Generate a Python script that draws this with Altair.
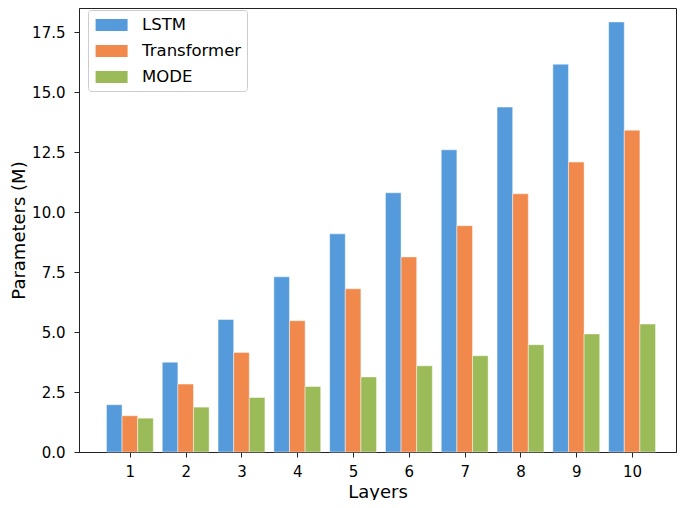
import altair as alt
import pandas as pd

layers = [1, 2, 3, 4, 5, 6, 7, 8, 9, 10]
models = ["LSTM", "Transformer", "MODE"]
lstm = [1.97, 3.74, 5.52, 7.30, 9.09, 10.80, 12.59, 14.37, 16.16, 17.92]
transformer = [1.51, 2.83, 4.15, 5.47, 6.80, 8.13, 9.43, 10.76, 12.08, 13.41]
mode = [1.41, 1.87, 2.27, 2.73, 3.13, 3.59, 4.01, 4.47, 4.92, 5.33]
colors = ["#559bdc", "#f0894b", "#9bbb59"]
y_ticks = [0, 2.5, 5, 7.5, 10, 12.5, 15, 17.5]

bar_w = 0.28
offsets = {"LSTM": -bar_w, "Transformer": 0.0, "MODE": bar_w}
series = {"LSTM": lstm, "Transformer": transformer, "MODE": mode}

rows = []
for m in models:
    for L, v in zip(layers, series[m]):
        c = L + offsets[m]
        rows.append({"Model": m, "Layer": L, "x0": c - bar_w / 2, "x1": c + bar_w / 2, "Params": v})
df = pd.DataFrame(rows)

FONT = "DejaVu Sans"

chart = alt.Chart(df).mark_bar(
    stroke="white", strokeOpacity=0.45, strokeWidth=1
).encode(
    x=alt.X("x0:Q",
            scale=alt.Scale(domain=[0.088, 10.787], nice=False, zero=False),
            axis=alt.Axis(title="Layers", values=layers, format="d", grid=False,
                          tickSize=5, labelPadding=7, titlePadding=4)),
    x2="x1:Q",
    y=alt.Y("Params:Q",
            scale=alt.Scale(domain=[0, 18.5], nice=False),
            axis=alt.Axis(title="Parameters (M)", values=y_ticks, format=".1f", grid=False,
                          tickSize=5, labelPadding=9, titlePadding=3)),
    y2=alt.datum(0),
    color=alt.Color("Model:N",
                    scale=alt.Scale(domain=models, range=colors),
                    sort=models,
                    legend=alt.Legend(title=None, orient="none", legendX=9, legendY=2,
                                      symbolType="M-1.6,-0.6H1.6V0.6H-1.6Z",
                                      symbolSize=400, symbolStrokeWidth=0,
                                      symbolOpacity=1, symbolOffset=8.6,
                                      labelFont=FONT, labelFontSize=16.5, labelColor="black",
                                      labelOffset=20.5, rowPadding=7, padding=5,
                                      strokeColor="#cccccc", fillColor="white",
                                      cornerRadius=3)),
).properties(
    width=597, height=444,
    autosize=alt.AutoSizeParams(type="none"),
    padding={"left": 71, "top": 0, "right": 1, "bottom": 48},
).configure_view(
    stroke="#222222", strokeWidth=1
).configure_axis(
    labelFont=FONT, labelFontSize=15, labelColor="black",
    titleFont=FONT, titleFontSize=18, titleFontWeight="normal", titleColor="black",
    domainColor="#222222", tickColor="#222222", domainWidth=1, tickWidth=1,
)

chart.save("out.html", embed_options={"renderer": "svg", "actions": False})
